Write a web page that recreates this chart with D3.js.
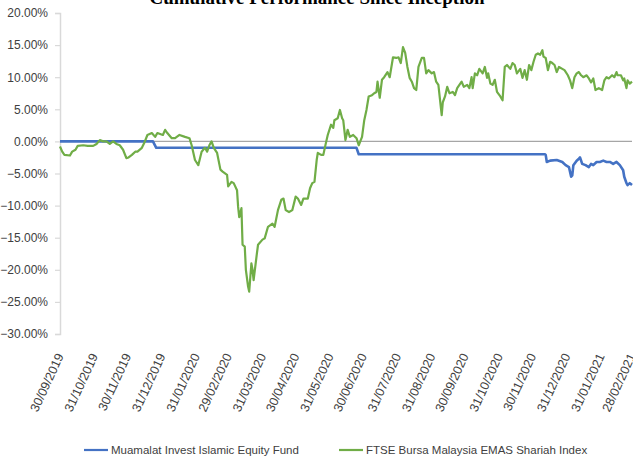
<!DOCTYPE html>
<html>
<head>
<meta charset="utf-8">
<script src="https://cdn.jsdelivr.net/npm/d3@7"></script>
<style>
  html, body { margin: 0; padding: 0; background: #fff; }
  svg { display: block; }
  .lbl { font-family: "Liberation Sans", Arial, sans-serif; fill: #404040; }
</style>
</head>
<body>
<svg id="chart" width="633" height="460"></svg>
<script>
// ---------- DATA ----------
const title = "Cumulative Performance Since Inception";
const seriesNames = ["Muamalat Invest Islamic Equity Fund", "FTSE Bursa Malaysia EMAS Shariah Index"];
const seriesColors = ["#4472C4", "#70AD47"];

const xTickLabels = ["30/09/2019","31/10/2019","30/11/2019","31/12/2019","31/01/2020","29/02/2020",
  "31/03/2020","30/04/2020","31/05/2020","30/06/2020","31/07/2020","31/08/2020","30/09/2020",
  "31/10/2020","30/11/2020","31/12/2020","31/01/2021","28/02/2021"];
const yTicks = [20, 15, 10, 5, 0, -5, -10, -15, -20, -25, -30];

const fundDates = ["2019-09-30","2019-12-23","2019-12-26","2020-06-24","2020-06-26","2020-12-11",
  "2020-12-12","2020-12-13","2020-12-16","2020-12-22","2020-12-27","2020-12-30","2021-01-02",
  "2021-01-04","2021-01-05","2021-01-06","2021-01-09","2021-01-11","2021-01-12","2021-01-14",
  "2021-01-17","2021-01-20","2021-01-22","2021-01-24","2021-01-27","2021-01-30","2021-02-02",
  "2021-02-05","2021-02-08","2021-02-11","2021-02-14","2021-02-17","2021-02-20","2021-02-21",
  "2021-02-23","2021-02-24","2021-02-26","2021-02-28"];
const fundValues = [0.0, 0.0, -1.0, -1.0, -2.0, -2.0,
  -2.1, -3.2, -3.0, -2.9, -3.2, -3.7, -4.0,
  -5.5, -5.3, -3.7, -3.0, -2.7, -2.5, -3.5,
  -3.7, -4.0, -3.5, -3.7, -3.2, -3.2, -3.0,
  -3.2, -3.2, -3.5, -3.2, -3.7, -4.5, -5.5,
  -6.5, -6.8, -6.5, -6.8];

const indexDates = ["2019-09-30","2019-10-02","2019-10-04","2019-10-09","2019-10-11","2019-10-14",
  "2019-10-16","2019-10-21","2019-10-25","2019-10-30","2019-11-02","2019-11-05","2019-11-08",
  "2019-11-11","2019-11-14","2019-11-17","2019-11-20","2019-11-23","2019-11-26","2019-11-29",
  "2019-12-01","2019-12-04","2019-12-07","2019-12-09","2019-12-13","2019-12-15","2019-12-18",
  "2019-12-22","2019-12-25","2019-12-27","2020-01-01","2020-01-03","2020-01-05","2020-01-09",
  "2020-01-12","2020-01-16","2020-01-21","2020-01-25","2020-01-27","2020-01-30","2020-02-02",
  "2020-02-05","2020-02-08","2020-02-10","2020-02-12","2020-02-14","2020-02-16","2020-02-19",
  "2020-02-22","2020-02-24","2020-02-28","2020-02-29","2020-03-03","2020-03-05","2020-03-08",
  "2020-03-09","2020-03-10","2020-03-12","2020-03-13","2020-03-15","2020-03-16","2020-03-18",
  "2020-03-19","2020-03-21","2020-03-22","2020-03-23","2020-03-26","2020-03-27","2020-03-31",
  "2020-04-02","2020-04-05","2020-04-09","2020-04-11","2020-04-14","2020-04-17","2020-04-19",
  "2020-04-21","2020-04-24","2020-04-27","2020-04-30","2020-05-02","2020-05-05","2020-05-07",
  "2020-05-11","2020-05-13","2020-05-15","2020-05-17","2020-05-19","2020-05-20","2020-05-23",
  "2020-05-25","2020-05-27","2020-05-29","2020-06-01","2020-06-03","2020-06-04","2020-06-07",
  "2020-06-09","2020-06-11","2020-06-12","2020-06-14","2020-06-16","2020-06-18","2020-06-21",
  "2020-06-24","2020-06-26","2020-06-29","2020-07-01","2020-07-03","2020-07-05","2020-07-08",
  "2020-07-10","2020-07-12","2020-07-13","2020-07-15","2020-07-17","2020-07-19","2020-07-22",
  "2020-07-24","2020-07-27","2020-07-30","2020-08-01","2020-08-03","2020-08-05","2020-08-07",
  "2020-08-09","2020-08-11","2020-08-13","2020-08-15","2020-08-17","2020-08-19","2020-08-22",
  "2020-08-24","2020-08-26","2020-08-28","2020-08-31","2020-09-02","2020-09-04","2020-09-06",
  "2020-09-09","2020-09-10","2020-09-12","2020-09-14","2020-09-16","2020-09-19","2020-09-21",
  "2020-09-23","2020-09-27","2020-09-29","2020-10-02","2020-10-04","2020-10-06","2020-10-07",
  "2020-10-09","2020-10-11","2020-10-13","2020-10-16","2020-10-18","2020-10-20","2020-10-21",
  "2020-10-23","2020-10-25","2020-10-27","2020-10-29","2020-11-01","2020-11-03","2020-11-05",
  "2020-11-07","2020-11-10","2020-11-12","2020-11-14","2020-11-16","2020-11-19","2020-11-21",
  "2020-11-23","2020-11-25","2020-11-27","2020-11-29","2020-12-01","2020-12-03","2020-12-05",
  "2020-12-07","2020-12-09","2020-12-10","2020-12-12","2020-12-14","2020-12-16","2020-12-18",
  "2020-12-20","2020-12-22","2020-12-24","2020-12-27","2020-12-29","2021-01-01","2021-01-03",
  "2021-01-05","2021-01-07","2021-01-09","2021-01-11","2021-01-13","2021-01-15","2021-01-18",
  "2021-01-20","2021-01-22","2021-01-24","2021-01-26","2021-01-29","2021-02-01","2021-02-03",
  "2021-02-05","2021-02-07","2021-02-10","2021-02-12","2021-02-14","2021-02-15","2021-02-18",
  "2021-02-20","2021-02-21","2021-02-23","2021-02-24","2021-02-26","2021-02-28"];
const indexValues = [-0.8, -1.6, -2.1, -2.2, -1.6, -1.3,
  -0.7, -0.6, -0.7, -0.7, -0.4, 0.2, 0.0,
  0.0, -0.4, 0.0, -0.4, -0.6, -1.3, -2.6,
  -2.5, -2.1, -1.6, -1.6, -1.0, -0.3, 1.0,
  1.3, 0.7, 1.3, 1.0, 1.8, 1.3, 0.5,
  0.5, 1.0, 0.7, 0.5, -0.6, -2.9, -3.7,
  -1.6, -1.0, -1.6, -0.6, 0.0, -1.0, -1.8,
  -4.4, -4.7, -5.2, -7.0, -6.3, -6.5, -7.6,
  -10.2, -11.8, -10.4, -16.1, -16.4, -20.0, -22.6,
  -23.4, -19.0, -20.0, -21.6, -17.4, -16.1, -15.3,
  -15.1, -13.3, -12.8, -13.3, -10.7, -9.1, -8.9,
  -10.7, -11.0, -10.7, -8.6, -8.9, -9.9, -8.9,
  -8.9, -7.3, -6.5, -6.3, -2.9, -1.8, -2.1,
  -2.1, -0.5, 1.0, 2.6, 2.1, 3.3, 3.6,
  4.9, 3.6, 3.3, 0.2, 1.8, 0.7, 1.0,
  0.5, -0.6, 0.7, 3.3, 4.9, 7.0, 7.2,
  7.5, 7.7, 9.3, 6.8, 9.6, 10.0, 10.8,
  10.0, 13.1, 13.0, 13.1, 12.2, 14.7, 13.8,
  11.6, 9.9, 9.3, 8.3, 8.0, 11.6, 13.0,
  13.0, 10.6, 11.1, 10.6, 10.8, 9.3, 8.8,
  4.1, 6.1, 7.0, 8.5, 7.5, 7.7, 7.2,
  8.3, 9.3, 8.5, 8.8, 8.3, 10.0, 8.3,
  10.6, 10.3, 11.3, 10.6, 11.6, 9.9, 10.6,
  9.0, 8.8, 9.6, 7.7, 7.0, 6.4, 11.6,
  11.9, 11.3, 12.2, 11.9, 10.6, 11.3, 9.9,
  11.1, 9.6, 11.9, 11.1, 12.4, 13.5, 13.7,
  13.5, 14.2, 13.2, 13.0, 11.1, 12.4, 12.2,
  11.9, 10.8, 11.6, 11.3, 11.1, 10.3, 9.5,
  8.3, 10.0, 10.6, 10.8, 10.3, 10.0, 10.3,
  9.8, 9.2, 9.8, 8.0, 8.3, 8.0, 9.5,
  10.0, 9.8, 10.3, 10.0, 10.8, 10.3, 10.3,
  9.5, 9.8, 8.3, 9.5, 9.0, 9.3];

// ---------- CHART ----------
const svg = d3.select("#chart");
const parseISO = d3.timeParse("%Y-%m-%d");
const parseDMY = d3.timeParse("%d/%m/%Y");

const x = d3.scaleTime()
  .domain([parseISO("2019-09-30"), parseISO("2021-02-28")])
  .range([60, 632]);
const y = d3.scaleLinear().domain([-30, 20]).range([334, 13]);

// title (clipped at top, as in the reference)
svg.append("text")
  .attr("x", 317).attr("y", 4)
  .attr("text-anchor", "middle")
  .style("font-family", "'Liberation Serif', 'Times New Roman', serif")
  .style("font-weight", "bold")
  .style("font-size", "19px")
  .style("fill", "#000")
  .text(title);

// y axis
const yAxis = d3.axisLeft(y)
  .tickValues(yTicks)
  .tickSize(5)
  .tickPadding(7)
  .tickFormat(d => d3.format(".2f")(d) + "%");
const gy = svg.append("g").attr("transform", "translate(60,0)").call(yAxis);
gy.select(".domain").attr("stroke", "#D9D9D9").attr("stroke-width", 1.5);
gy.selectAll(".tick line").attr("stroke", "#D9D9D9").attr("stroke-width", 1.2);
gy.selectAll(".tick text")
  .attr("class", "lbl")
  .style("font-size", "12px");

// zero (category) axis line
svg.append("line")
  .attr("x1", x.range()[0]).attr("x2", x.range()[1])
  .attr("y1", y(0)).attr("y2", y(0))
  .attr("stroke", "#A6A6A6").attr("stroke-width", 1.2);

// x labels (rotated), positioned by the x scale
svg.append("g").selectAll("text")
  .data(xTickLabels)
  .join("text")
  .attr("class", "lbl")
  .style("font-size", "12.5px")
  .attr("text-anchor", "end")
  .attr("transform", d => `translate(${x(parseDMY(d)) + 4},356) rotate(-65)`)
  .text(d => d);

// lines
const line = d3.line()
  .x(d => x(d.date))
  .y(d => y(d.value));

const fundData = fundDates.map((d, i) => ({ date: parseISO(d), value: fundValues[i] }));
const indexData = indexDates.map((d, i) => ({ date: parseISO(d), value: indexValues[i] }));

svg.append("path").datum(fundData)
  .attr("d", line)
  .attr("fill", "none")
  .attr("stroke", seriesColors[0])
  .attr("stroke-width", 2.6)
  .attr("stroke-linejoin", "round");

svg.append("path").datum(indexData)
  .attr("d", line)
  .attr("fill", "none")
  .attr("stroke", seriesColors[1])
  .attr("stroke-width", 2.2)
  .attr("stroke-linejoin", "round");

// legend
const legendItems = [
  { name: seriesNames[0], color: seriesColors[0], x: 84 },
  { name: seriesNames[1], color: seriesColors[1], x: 339 }
];
const lg = svg.append("g").selectAll("g").data(legendItems).join("g")
  .attr("transform", d => `translate(${d.x},450)`);
lg.append("line")
  .attr("x1", 0).attr("x2", 24).attr("y1", 0).attr("y2", 0)
  .attr("stroke", d => d.color).attr("stroke-width", 2.2);
lg.append("text")
  .attr("class", "lbl")
  .style("font-size", "11.5px")
  .attr("x", 27).attr("y", 0).attr("dy", "0.35em")
  .text(d => d.name);
</script>
</body>
</html>
